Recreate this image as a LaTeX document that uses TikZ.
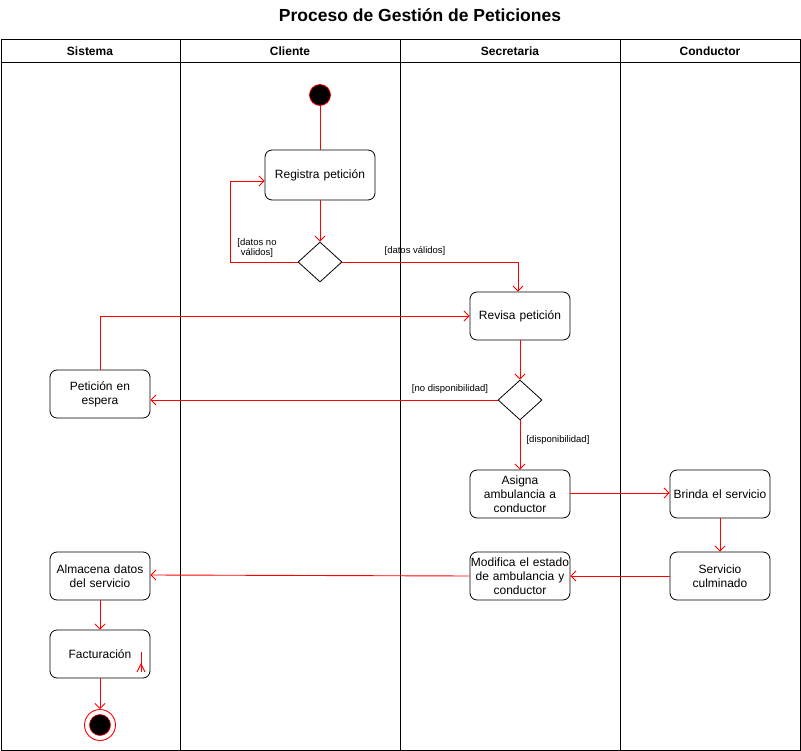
\documentclass[tikz,border=0pt]{standalone}
\usepackage{fontspec}
\setmainfont{Liberation Sans}
\usetikzlibrary{shapes.geometric,arrows.meta,calc}
\definecolor{flowred}{HTML}{FF0000}
\newcommand{\ctrline}[1]{\makebox[96pt][c]{#1}}
\tikzset{
  lane/.style={draw=black, line width=1pt},
  act/.style={draw=black, rounded corners=7pt, minimum width=100pt, minimum height=48pt, text width=98pt, align=center, font=\fontsize{12}{14}\selectfont, inner sep=1pt, line width=0.8pt},
  dec/.style={draw=black, shape=diamond, minimum width=44pt, minimum height=40pt, inner sep=0pt, line width=0.8pt},
  flow/.style={draw=flowred, line width=0.9pt, -{Straight Barb[length=5pt,width=10pt]}},
  plainflow/.style={draw=flowred, line width=0.9pt},
  lbl/.style={font=\fontsize{9.5}{10.5}\selectfont, inner sep=0pt, align=center},
  hdr/.style={font=\bfseries\fontsize{12}{14}\selectfont}
}
\begin{document}
\begin{tikzpicture}[x=1pt,y=-1pt]
\useasboundingbox (0,0) rectangle (801,751);
% title
\node[font=\bfseries\fontsize{17.5}{20}\selectfont] (title) at (420,15) {Proceso de Gestión de Peticiones};
% lanes
\draw[lane] (1,40) rectangle (800,750);
\draw[lane] (1,63) -- (800,63);
\draw[lane] (180,40) -- (180,750);
\draw[lane] (400,40) -- (400,750);
\draw[lane] (620,40) -- (620,750);
\node[hdr] (h1) at (90,51.5) {Sistema};
\node[hdr] (h2) at (290,51.5) {Cliente};
\node[hdr] (h3) at (510,51.5) {Secretaria};
\node[hdr] (h4) at (710,51.5) {Conductor};
% nodes
\node[circle, fill=black, draw=flowred, line width=0.8pt, minimum size=21pt, inner sep=0pt] (start) at (320,95) {};
\node[act, minimum width=110pt, minimum height=50pt] (reg) at (320,175) {Registra petición};
\node[dec] (d1) at (320,262) {};
\node[act] (rev) at (520,316) {Revisa petición};
\node[dec] (d2) at (520,400) {};
\node[act] (pe) at (100,394) {Petición en\\espera};
\node[act] (asg) at (520,494) {Asigna\\ambulancia a\\conductor};
\node[act] (bri) at (720,494) {Brinda el servicio};
\node[act] (sc) at (720,576) {Servicio\\culminado};
\node[act] (mod) at (520,576) {\ctrline{Modifica el estado}\\\ctrline{de ambulancia y}\\\ctrline{conductor}};
\node[act] (alm) at (100,576) {Almacena datos\\del servicio};
\node[act] (fac) at (100,654) {Facturación};
\node[circle, draw=flowred, fill=white, line width=0.9pt, minimum size=31pt, inner sep=0pt] (endo) at (100,725) {};
\node[circle, draw=flowred, fill=black, line width=0.6pt, minimum size=21pt, inner sep=0pt] (endi) at (100,725) {};
% connectors
\draw[plainflow] (start) -- (reg);
\draw[flow] (reg) -- (d1);
\draw[flow] (d1.west) -- (230,262) |- ($(reg.west)+(0,6)$);
\draw[flow] (d1.east) -| ($(rev.north)+(-2,0)$);
\draw[flow] (rev) -- (d2);
\draw[flow] (d2.west) -- (d2.west -| pe.east);
\draw[flow] (pe.north) |- (rev.west);
\draw[flow] (d2) -- (asg);
\draw[flow] ($(asg.east)+(0,-1)$) -- ($(bri.west)+(0,-1)$);
\draw[flow] (bri) -- (sc);
\draw[flow] (sc) -- (mod);
\draw[flow] (mod.west) -- ($(alm.east)+(0,-1)$);
\draw[flow] (alm) -- (fac);
\draw[flow] (fac) -- (endo);
% small stray arrow inside Facturación
\coordinate (sa) at (141,672);
\coordinate (sb) at (141,652);
\draw[plainflow] (sa) -- (sb);
\draw[plainflow] ($(sa)+(-4,0)$) -- ($(sa)+(0,-8)$) -- ($(sa)+(4,0)$);
% labels
\node[lbl] (l1) at (257,248) {[datos no\\válidos]};
\node[lbl] (l2) at (415,251) {[datos válidos]};
\node[lbl] (l3) at (450,389) {[no disponibilidad]};
\node[lbl] (l4) at (558,440) {[disponibilidad]};
\end{tikzpicture}
\end{document}
